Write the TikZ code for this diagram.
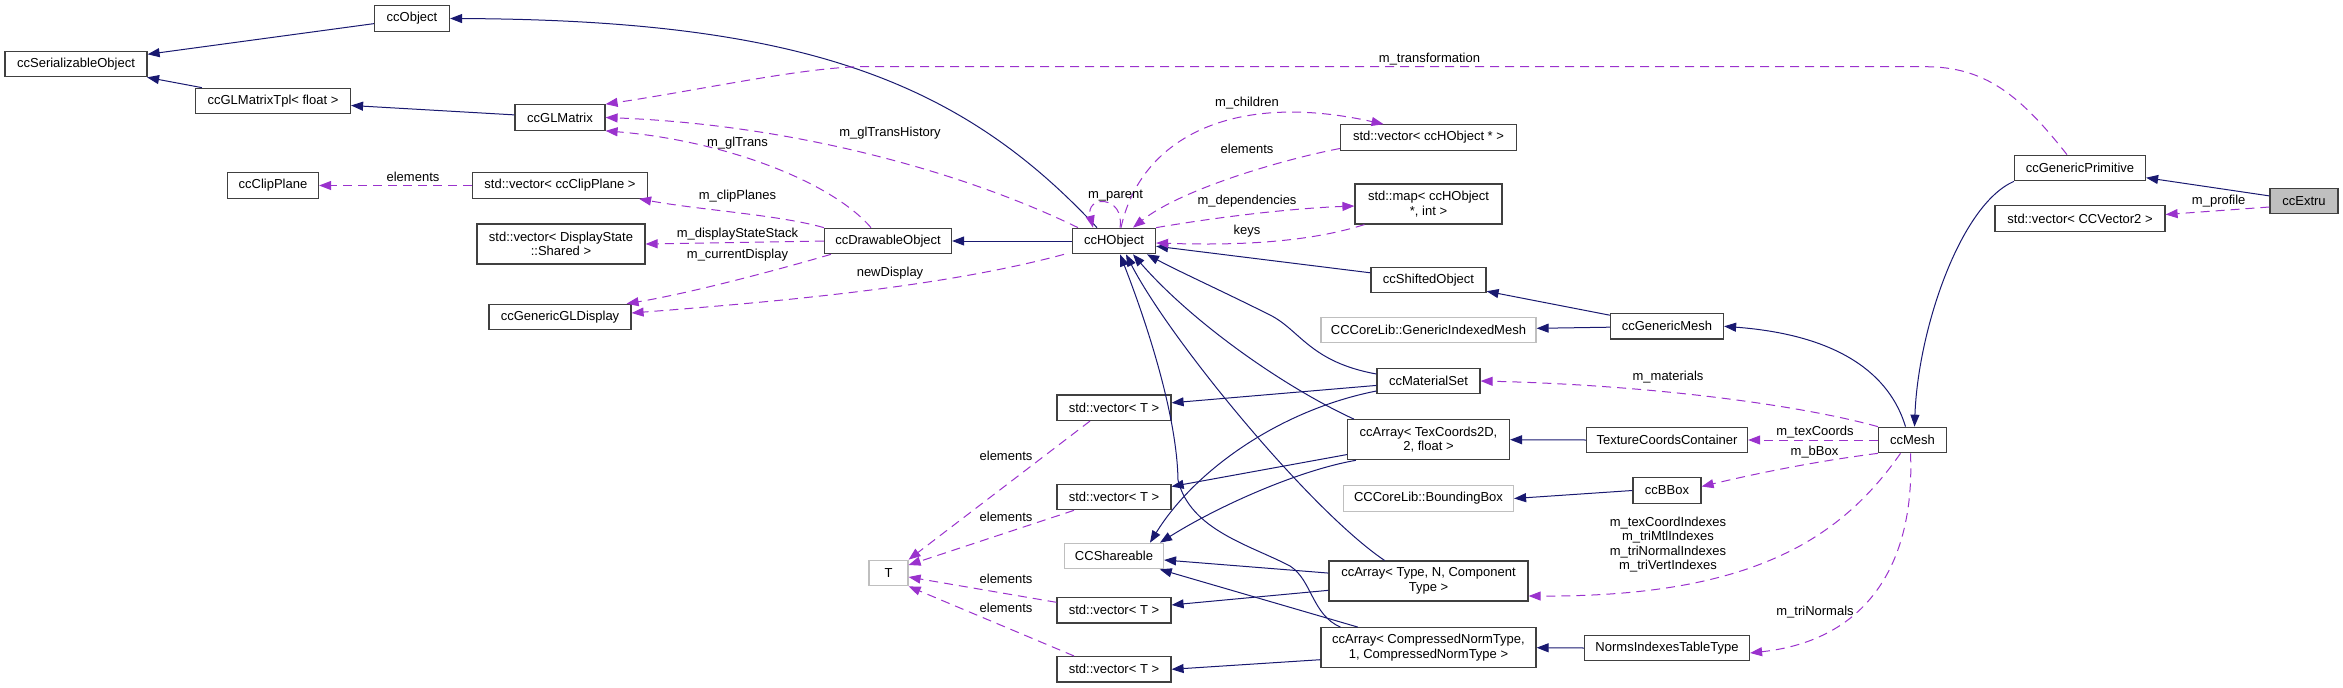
\documentclass[tikz,border=0pt]{standalone}
\usepackage{fontspec}
\setmainfont{Liberation Sans}
\usetikzlibrary{arrows.meta}
\definecolor{edgeblue}{HTML}{191970}
\definecolor{edgepurple}{HTML}{9A32CD}
\definecolor{boxgray}{HTML}{404040}
\definecolor{extgray}{HTML}{BFBFBF}
\newcommand{\clsfont}{\fontsize{13}{14.5}\selectfont}

\begin{document}
\begin{tikzpicture}[x=1pt, y=-1pt, >={Triangle[length=12pt,width=9pt]}]

    % estilos
    \tikzstyle{cls}=[draw=boxgray, line width=1.2pt, fill=white, minimum height=25.5pt, inner sep=0pt, font=\clsfont, align=center]
    \tikzstyle{twoline}=[cls, minimum height=40pt]
    \tikzstyle{extcls}=[cls, draw=extgray]
    \tikzstyle{curcls}=[cls, fill=extgray]
    \tikzstyle{inherit}=[->, draw=edgeblue, line width=1pt]
    \tikzstyle{member}=[->, draw=edgepurple, line width=1pt, dash pattern=on 9pt off 6pt]
    \tikzstyle{lbl}=[font=\clsfont, inner sep=0pt]

    \useasboundingbox (0,0) rectangle (2343,688);

    %======================= CLASSES =======================
    % coluna esquerda
    \node[cls, minimum width=75pt]  (obj)   at (412,18.5)  {ccObject};
    \node[cls, minimum width=142pt] (ser)   at (76,64)     {ccSerializableObject};
    \node[cls, minimum width=155pt] (tpl)   at (273,101)   {ccGLMatrixTpl< float >};
    \node[cls, minimum width=90pt]  (glm)   at (560,117.5) {ccGLMatrix};
    \node[cls, minimum width=91pt]  (clip)  at (273,185.5) {ccClipPlane};
    \node[cls, minimum width=175pt] (vclip) at (560,185.5) {std::vector< ccClipPlane >};
    \node[twoline, minimum width=168pt] (vds) at (561,244) {std::vector< DisplayState\\::Shared >};
    \node[cls, minimum width=142pt] (gld)   at (560,317)   {ccGenericGLDisplay};

    % centro
    \node[cls, minimum width=127pt] (drw)   at (888,241)   {ccDrawableObject};
    \node[cls, minimum width=83pt]  (hobj)  at (1114,241)  {ccHObject};
    \node[cls, minimum width=114pt] (v1)    at (1114,407.7) {std::vector< T >};
    \node[cls, minimum width=114pt] (v2)    at (1114,497)  {std::vector< T >};
    \node[extcls, minimum width=99pt] (shr) at (1114,556)  {CCShareable};
    \node[cls, minimum width=114pt] (v3)    at (1114,610.3) {std::vector< T >};
    \node[cls, minimum width=114pt] (v4)    at (1114,669.3) {std::vector< T >};
    \node[extcls, minimum width=39pt] (tt)  at (888.5,573) {T};

    % coluna dos membros
    \node[cls, minimum width=176pt] (vhobj) at (1428.5,137.5) {std::vector< ccHObject * >};
    \node[twoline, minimum width=147pt] (map) at (1428.5,204) {std::map< ccHObject\\*, int >};
    \node[cls, minimum width=115pt] (shift) at (1428.5,280) {ccShiftedObject};
    \node[extcls, minimum width=215pt] (gim) at (1428.5,330) {CCCoreLib::GenericIndexedMesh};
    \node[cls, minimum width=103pt] (mat)   at (1428.5,381) {ccMaterialSet};
    \node[twoline, minimum width=162pt] (atex) at (1428.5,439.7) {ccArray< TexCoords2D,\\2, float >};
    \node[extcls, minimum width=170pt] (bb) at (1428.5,498.5) {CCCoreLib::BoundingBox};
    \node[twoline, minimum width=199pt] (atype) at (1428.5,581) {ccArray< Type, N, Component\\Type >};
    \node[twoline, minimum width=215pt] (acmp) at (1428.5,647.7) {ccArray< CompressedNormType,\\1, CompressedNormType >};

    % direita
    \node[cls, minimum width=113pt] (gmesh) at (1667,326.3) {ccGenericMesh};
    \node[cls, minimum width=161pt] (tcc)   at (1667,440)  {TextureCoordsContainer};
    \node[cls, minimum width=68pt]  (bbox)  at (1667,490.5) {ccBBox};
    \node[cls, minimum width=165pt] (nitt)  at (1667,648)  {NormsIndexesTableType};
    \node[cls, minimum width=68pt]  (mesh)  at (1912.5,440) {ccMesh};
    \node[cls, minimum width=131pt] (prim)  at (2080,168)  {ccGenericPrimitive};
    \node[cls, minimum width=170pt] (vv2)   at (2080,218.5) {std::vector< CCVector2 >};
    \node[curcls, minimum width=68pt] (extru) at (2304,201) {ccExtru};

    %======================= HERANCA =======================
    \draw[inherit] (obj) -- (ser);
    \draw[inherit] (tpl) -- (ser);
    \draw[inherit] (glm) -- (tpl);
    \draw[inherit] ([xshift=-17pt]hobj.north) .. controls (960,80) and (800,20) .. (obj.east);
    \draw[inherit] (hobj.west) -- (drw.east);
    \draw[inherit] (shift) -- (hobj);
    \draw[inherit] (gmesh) -- (shift);
    \draw[inherit] (gmesh) -- (gim);
    \draw[inherit] ([xshift=-7pt]mesh.north) .. controls (1890,375) and (1840,335) .. (gmesh.east);
    \draw[inherit] (extru) -- (prim);
    \draw[inherit] (prim.south west) .. controls (1960,205) and (1918,330) .. ([xshift=2pt]mesh.north);

    % ccMaterialSet
    \draw[inherit] ([yshift=7pt]mat.west) .. controls (1310,362) and (1300,330) .. (1270,315)
                   .. controls (1220,290) and (1180,272) .. ([xshift=33pt]hobj.south);
    \draw[inherit] (mat) -- (v1);
    \draw[inherit] ([yshift=-10pt]mat.west) .. controls (1280,410) and (1195,470) .. ([xshift=36pt]shr.north);

    % ccArray< TexCoords2D, 2, float >
    \draw[inherit] ([xshift=7pt]atex.north west) .. controls (1280,385) and (1190,320) .. ([xshift=19pt]hobj.south);
    \draw[inherit] (atex) -- (v2);
    \draw[inherit] ([xshift=9pt]atex.south west) .. controls (1300,470) and (1220,505) .. ([xshift=46pt]shr.north);
    \draw[inherit] (tcc.west) -- (atex.east);

    % ccArray< Type, N, Component Type >
    \draw[inherit] ([xshift=-44pt]atype.north) .. controls (1310,510) and (1170,340) .. ([xshift=12pt]hobj.south);
    \draw[inherit] (atype) -- (shr);
    \draw[inherit] (atype) -- (v3);

    % ccArray< CompressedNormType, 1, CompressedNormType >
    \draw[inherit] ([xshift=-88pt]acmp.north) .. controls (1312,615) and (1312,580) .. (1290,566)
                   .. controls (1250,545) and (1190,530) .. (1178,480)
                   .. controls (1177,420) and (1151,334) .. ([xshift=6pt]hobj.south);
    \draw[inherit] (acmp) -- (shr);
    \draw[inherit] ([yshift=-12pt]acmp.west) -- (v4.east);
    \draw[inherit] (nitt.west) -- (acmp.east);

    \draw[inherit] (bbox.west) -- (bb.east);

    %======================= MEMBROS =======================
    \draw[member] ([xshift=-13pt]prim.north) .. controls (2020,95) and (1985,66.7) .. (1925,66.7)
                  -- (860,66.7) .. controls (800,68) and (700,90) .. (glm.north east);
    \draw[member] ([xshift=-36pt]hobj.north) .. controls (970,175) and (800,125) .. (glm.east);
    \draw[member] ([xshift=-17pt]drw.north) .. controls (830,180) and (720,140) .. (glm.south east);
    \draw[member] (drw.north west) .. controls (780,215) and (700,210) .. ([xshift=-9pt]vclip.south east);
    \draw[member] (drw.west) -- (vds.east);
    \draw[member] ([xshift=7pt]drw.south west) .. controls (760,275) and (680,295) .. ([xshift=-5pt]gld.north east);
    \draw[member] ([xshift=-50pt]hobj.south) .. controls (950,285) and (800,300) .. ([yshift=4pt]gld.east);
    \draw[member] (vclip.west) -- (clip.east);

    % ccHObject
    \draw[member] ([xshift=6pt]hobj.north) .. controls (1125,195) and (1085,195) .. ([xshift=-21pt]hobj.north);
    \draw[member] ([xshift=7pt]hobj.north) .. controls (1140,140) and (1230,90) .. ([xshift=-45pt]vhobj.north);
    \draw[member] ([yshift=-11pt]vhobj.west) .. controls (1280,160) and (1180,190) .. ([xshift=19pt]hobj.north);
    \draw[member] (hobj.north east) .. controls (1230,215) and (1300,208) .. ([yshift=-2pt]map.west);
    \draw[member] ([xshift=10pt]map.south west) .. controls (1300,245) and (1220,245) .. ([yshift=-2pt]hobj.east);

    % std::vector< T > -> T
    \draw[member] ([xshift=-24pt]v1.south) -- (tt.north east);
    \draw[member] ([xshift=-40pt]v2.south) -- ([yshift=8pt]tt.east);
    \draw[member] ([yshift=8pt]v3.west) -- ([yshift=-4pt]tt.east);
    \draw[member] ([xshift=-40pt]v4.north) -- (tt.south east);

    % ccMesh
    \draw[member] (mesh.north west) .. controls (1800,405) and (1650,385) .. (mat.east);
    \draw[member] (mesh.west) -- (tcc.east);
    \draw[member] (mesh.south west) .. controls (1810,462) and (1750,475) .. ([yshift=4pt]bbox.east);
    \draw[member] ([xshift=-12pt]mesh.south) .. controls (1840,540) and (1750,597) .. ([yshift=-15pt]atype.east);
    \draw[member] ([xshift=-2pt]mesh.south) .. controls (1915,560) and (1870,640) .. ([yshift=-5pt]nitt.east);
    \draw[member] ([yshift=-6pt]extru.west) -- ([yshift=4pt]vv2.east);

    %======================= ROTULOS =======================
    \node[lbl] (lTransf)   at (1429.5,58.7) {m\_transformation};
    \node[lbl] (lHist)     at (890,133)     {m\_glTransHistory};
    \node[lbl] (lGlTrans)  at (737.5,143)   {m\_glTrans};
    \node[lbl] (lClip)     at (737.5,196)   {m\_clipPlanes};
    \node[lbl] (lStack)    at (737.5,234)   {m\_displayStateStack};
    \node[lbl] (lCurDisp)  at (737.5,255)   {m\_currentDisplay};
    \node[lbl] (lNewDisp)  at (890,273)     {newDisplay};
    \node[lbl] (lClipEl)   at (413,176.7)   {elements};
    \node[lbl] (lParent)   at (1115.5,196)  {m\_parent};
    \node[lbl] (lChildren) at (1247,102.7)  {m\_children};
    \node[lbl] (lChildEl)  at (1247,148.7)  {elements};
    \node[lbl] (lDeps)     at (1247,200.7)  {m\_dependencies};
    \node[lbl] (lKeys)     at (1247,230.7)  {keys};
    \node[lbl] (lEl1)      at (1006,455.7)  {elements};
    \node[lbl] (lEl2)      at (1006,516.7)  {elements};
    \node[lbl] (lEl3)      at (1006,579.3)  {elements};
    \node[lbl] (lEl4)      at (1006,607.7)  {elements};
    \node[lbl] (lMat)      at (1668,376.7)  {m\_materials};
    \node[lbl] (lTexC)     at (1815,431.7)  {m\_texCoords};
    \node[lbl] (lBBox)     at (1814.5,451.7) {m\_bBox};
    \node[lbl, align=center] (lIdx) at (1668,544.7) {m\_texCoordIndexes\\m\_triMtlIndexes\\m\_triNormalIndexes\\m\_triVertIndexes};
    \node[lbl] (lNormals)  at (1815,611.7)  {m\_triNormals};
    \node[lbl] (lProfile)  at (2218.7,200.7) {m\_profile};

\end{tikzpicture}
\end{document}
